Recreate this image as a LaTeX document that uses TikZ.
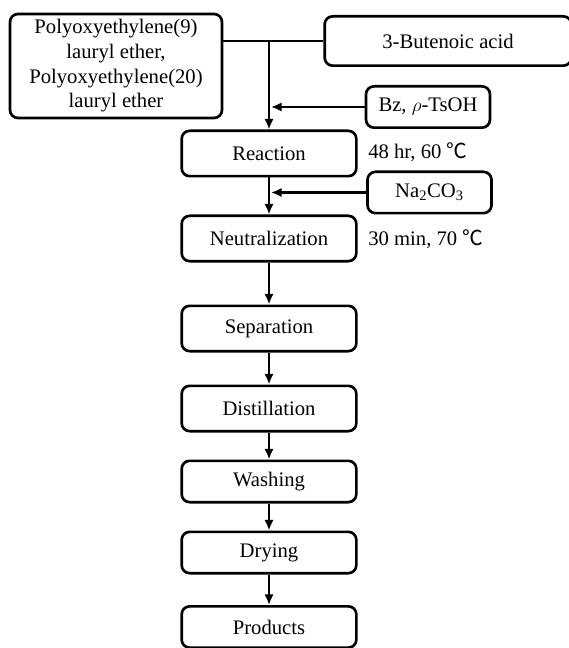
\documentclass[tikz,border=0pt]{standalone}
\usepackage{fontspec}
\setmainfont{Liberation Serif}
\newfontfamily\cjk{Noto Sans CJK SC}
\usetikzlibrary{arrows.meta}
\begin{document}
\begin{tikzpicture}[x=0.75pt,y=-0.75pt,
	box/.style={draw,line width=2pt,rounded corners=6pt,inner sep=0pt,align=center,font=\fontsize{15.5}{18.5}\selectfont},
	stepbox/.style={box,minimum width=131pt,minimum height=34pt},
	flow/.style={line width=2pt,-{Latex[length=8pt,width=7pt]}},
	cond/.style={anchor=west,inner sep=0pt,font=\fontsize{15.5}{18}\selectfont}]
	\useasboundingbox (0,0) rectangle (568,648);
	\node[box,minimum width=159pt,minimum height=78pt] (pol) at (116,66) {Polyoxyethylene(9)\\ lauryl ether,\\Polyoxyethylene(20)\\lauryl ether};
	\node[box,minimum width=185pt,minimum height=37pt] (but) at (448,41) {3-Butenoic acid};
	\node[box,minimum width=93pt,minimum height=31pt] (bz) at (428,107) {Bz, $\rho$-TsOH};
	\node[stepbox] (rea) at (269,153.5) {Reaction};
	\node[box,minimum width=93pt,minimum height=31pt] (na) at (429.5,192.5) {Na\textsubscript{2}CO\textsubscript{3}};
	\node[stepbox] (neu) at (269,238.5) {Neutralization};
	\node[stepbox] (sep) at (269,328.5) {Separation};
	\node[stepbox] (dis) at (269,408.5) {Distillation};
	\node[stepbox,minimum height=31pt] (was) at (269,481.5) {Washing};
	\node[stepbox,minimum height=31pt] (dry) at (269,552.5) {Drying};
	\node[stepbox,minimum height=31pt] (pro) at (269,627) {Products};
	\node[cond] (c1) at (368,152) {48 hr, 60 {\cjk ℃}};
	\node[cond] (c2) at (368,239) {30 min, 70 {\cjk ℃}};
	\coordinate (j) at (rea.north |- but.west);
	\draw[line width=2pt] (pol.east |- j) -- (but.west);
	\draw[flow] (j) -- (rea.north);
	\draw[flow,shorten >=1.5pt] (bz.west) -- (bz.west -| rea.north);
	\draw[flow] (rea) -- (neu);
	\draw[flow,shorten >=1.5pt] (na.west) -- (na.west -| rea.south);
	\draw[flow] (neu) -- (sep);
	\draw[flow] (sep) -- (dis);
	\draw[flow] (dis) -- (was);
	\draw[flow] (was) -- (dry);
	\draw[flow] (dry) -- (pro);
\end{tikzpicture}
\end{document}
